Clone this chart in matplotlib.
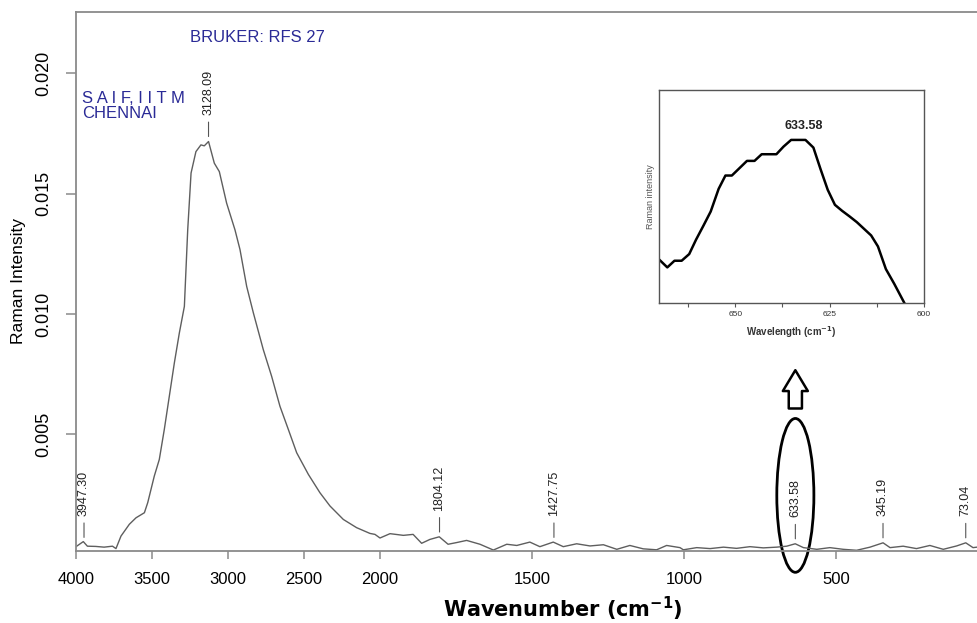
import numpy as np
import matplotlib
matplotlib.use("Agg")
import matplotlib.pyplot as plt
from matplotlib.patches import Ellipse

plt.rcParams['font.family'] = ['Liberation Sans', 'DejaVu Sans']

# ---- main Raman spectrum ----
wavenumber = [4000, 3952, 3925, 3870, 3815, 3760, 3737, 3704, 3649, 3605,
              3550, 3528, 3485, 3452, 3419, 3386, 3353, 3320, 3287, 3265,
              3243, 3211, 3178, 3156, 3128, 3090, 3057, 3009, 2954, 2921,
              2877, 2833, 2768, 2713, 2658, 2603, 2548, 2471, 2395, 2329,
              2241, 2154, 2066, 2033, 2000, 1967, 1923, 1891, 1863, 1836,
              1805, 1776, 1748, 1715, 1671, 1627, 1583, 1550, 1507, 1474,
              1430, 1397, 1353, 1309, 1265, 1221, 1178, 1134, 1090, 1057,
              1013, 1002, 958, 914, 870, 827, 783, 739, 695, 662,
              634, 607, 563, 520, 476, 432, 388, 345, 322, 279,
              235, 191, 147, 103, 73, 49, 36]
intensity = [0.00034, 0.00055, 0.00036, 0.00035, 0.00032, 0.00036, 0.00026, 0.00078, 0.00127, 0.00154,
             0.00175, 0.00217, 0.00327, 0.00396, 0.00521, 0.00659, 0.00797, 0.00922, 0.01032, 0.01350,
             0.01586, 0.01675, 0.01703, 0.01699, 0.01717, 0.01627, 0.01592, 0.01461, 0.01350, 0.01268,
             0.01115, 0.01005, 0.00853, 0.00742, 0.00617, 0.00521, 0.00424, 0.00334, 0.00258, 0.00203,
             0.00147, 0.00113, 0.00089, 0.00085, 0.00070, 0.00088, 0.00081, 0.00085, 0.00048, 0.00064,
             0.00075, 0.00044, 0.00051, 0.00060, 0.00044, 0.00020, 0.00044, 0.00039, 0.00053, 0.00034,
             0.00053, 0.00034, 0.00046, 0.00037, 0.00042, 0.00023, 0.00039, 0.00025, 0.00021, 0.00039,
             0.00030, 0.00021, 0.00030, 0.00026, 0.00032, 0.00027, 0.00034, 0.00029, 0.00032, 0.00036,
             0.00046, 0.00030, 0.00023, 0.00030, 0.00023, 0.00019, 0.00032, 0.00050, 0.00030, 0.00036,
             0.00026, 0.00039, 0.00023, 0.00037, 0.00050, 0.00030, 0.00032]

peak_pos = [3947.30, 3128.09, 1804.12, 1427.75, 633.58, 345.19, 73.04]
peak_labels = ["3947.30", "3128.09", "1804.12", "1427.75", "633.58", "345.19", "73.04"]

xtick_vals = [4000, 3500, 3000, 2500, 2000, 1500, 1000, 500]
ytick_vals = [0.005, 0.010, 0.015, 0.020]

# ---- inset: zoom on the 633.58 band ----
inset_wl = [670.1, 668.0, 666.1, 664.2, 662.2, 660.4, 658.4, 656.5, 654.4, 652.6,
            650.9, 648.9, 646.9, 644.9, 643.0, 639.1, 637.2, 635.2, 631.4, 629.3,
            627.4, 625.5, 623.6, 621.7, 619.7, 617.8, 615.9, 614.0, 612.2, 610.1,
            607.9, 605.2]
inset_int = [130, 107, 127, 127, 147, 190, 233, 275, 343, 383,
             383, 405, 427, 427, 447, 447, 470, 490, 490, 467,
             402, 340, 295, 277, 260, 243, 223, 203, 170, 102,
             58, 0]
inset_ticks = [650, 625, 600]
inset_minor = [662.5, 637.5, 612.5]


# wavenumbers above 2000 are squeezed by a factor 2 (as in the Bruker plot)
def fwd(x):
    x = np.asarray(x, dtype=float)
    return np.where(x > 2000, 2000 + (x - 2000) / 2.0, x)


def inv(y):
    y = np.asarray(y, dtype=float)
    return np.where(y > 2000, 2000 + (y - 2000) * 2.0, y)


W, H = 977, 623
fig = plt.figure(figsize=(W / 100, H / 100), dpi=100)
ax = fig.add_axes([76 / W, 72 / H, 901 / W, 539 / H])

spine_col = "#8a8a8a"
ax.plot(wavenumber, intensity, color="#5e5e5e", lw=1.0)
ax.set_xscale("function", functions=(fwd, inv))
ax.set_xlim(4000, 36)
ax.set_ylim(0.00016, 0.02255)

ax.set_xticks(xtick_vals)
ax.set_xticklabels([str(v) for v in xtick_vals])
ax.set_yticks(ytick_vals)
ax.set_yticklabels([f"{v:.3f}" for v in ytick_vals], rotation=90, va="center")
ax.tick_params(axis="x", length=6, width=1.1, color=spine_col, labelsize=12, pad=9)
ax.tick_params(axis="y", length=7, width=1.1, color=spine_col, labelsize=13, pad=10)
ax.minorticks_off()
for s in ["left", "bottom", "top"]:
    ax.spines[s].set_color(spine_col)
    ax.spines[s].set_linewidth(1.3)
ax.spines["right"].set_visible(False)

ax.set_ylabel("Raman Intensity", fontsize=12.5)
ax.yaxis.set_label_coords(-0.055, 0.5)
fig.text(563 / W, 1 - 609 / H, r"Wavenumber (cm$^{\mathbf{-1}}$)", fontsize=15,
         fontweight="bold", family="DejaVu Sans", ha="center", va="center")

# peak labels
for xp, lab in zip(peak_pos, peak_labels):
    yp = np.interp(xp, wavenumber[::-1], intensity[::-1])
    ax.annotate("", xy=(xp, yp), xytext=(0, 14), textcoords="offset points",
                arrowprops=dict(arrowstyle="-", color="#555555", lw=0.8,
                                shrinkA=0, shrinkB=3.6))
    ax.annotate(lab, xy=(xp, yp), xytext=(0, 19), textcoords="offset points",
                rotation=90, ha="center", va="bottom", fontsize=9, color="#222222")

# instrument text
ax.text(114 / 901, 1 - 25 / 539, "BRUKER: RFS 27", transform=ax.transAxes,
        fontsize=12, color="#2a2a96", ha="left", va="center")
ax.text(6 / 901, 1 - 94 / 539, "S A I F, I I T M\nCHENNAI", transform=ax.transAxes,
        fontsize=12, color="#2a2a96", ha="left", va="center", linespacing=1.08)

# oval around the 633.58 band and hollow arrow to the inset
ax.add_patch(Ellipse((633.58, 0.00247), width=122, height=0.00639, fill=False,
                     ec="black", lw=2.0, clip_on=False))
ax.annotate("", xy=(633.58, 0.00767), xytext=(633.58, 0.00608),
            arrowprops=dict(arrowstyle="simple,head_length=1.5,head_width=1.8,tail_width=0.95",
                            mutation_scale=10, fc="white", ec="black", lw=1.8,
                            shrinkA=0, shrinkB=0))

# ---- inset ----
axi = fig.add_axes([659 / W, (H - 303) / H, 265 / W, 213 / H])
axi.plot(inset_wl, inset_int, color="black", lw=1.8)
axi.set_xlim(670.2, 600)
axi.set_ylim(0, 640)
axi.set_xticks(inset_ticks)
axi.set_xticks(inset_minor, minor=True)
axi.set_xticklabels([str(v) for v in inset_ticks], fontsize=6, color="#333333")
axi.set_yticks([])
axi.tick_params(axis="x", which="both", length=3, width=0.8, color="#555555", pad=3)
for s in axi.spines.values():
    s.set_color("#555555")
    s.set_linewidth(1.0)
axi.set_xlabel(r"Wavelength (cm$^{\mathbf{-1}}$)", fontsize=7, fontweight="bold",
               color="#333333", labelpad=4)
axi.set_ylabel("Raman intensity", fontsize=6.5, color="#555555", labelpad=3)
axi.text(632, 532, "633.58", fontsize=9, fontweight="bold", color="#222222",
         ha="center", va="center")

fig.savefig("out.png", dpi=100)
